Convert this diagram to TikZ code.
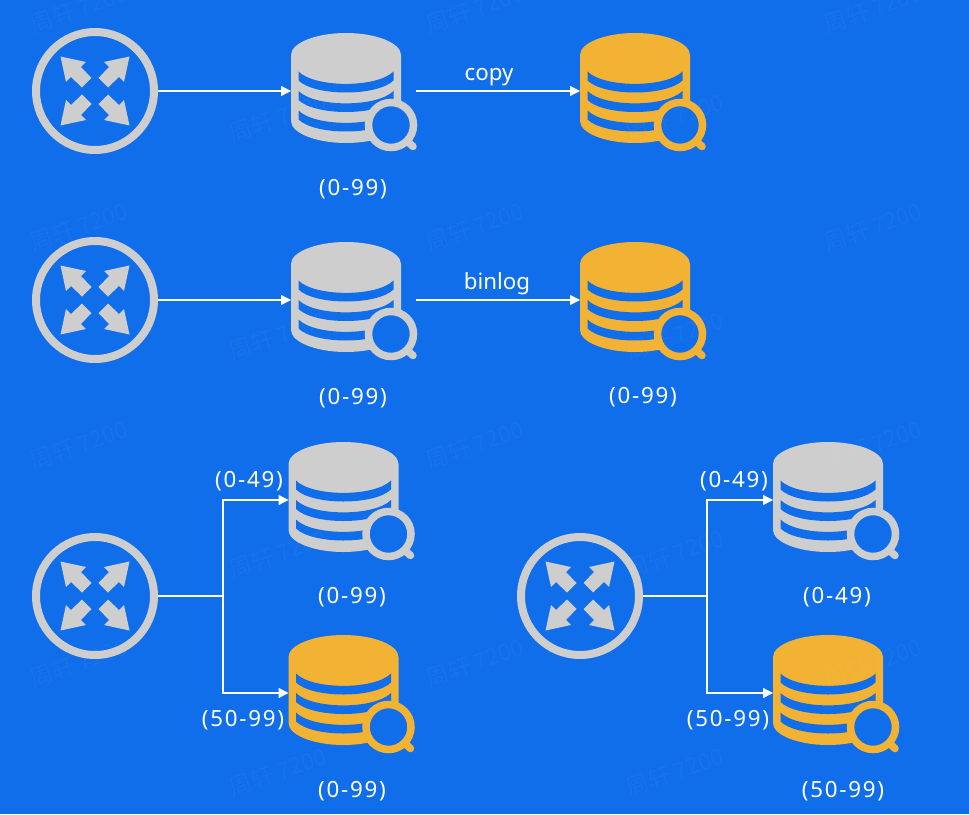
\documentclass[tikz,border=0pt]{standalone}
\usepackage{fontspec}
\setmainfont{Noto Sans}
\newfontfamily\rangefont{Noto Sans}[LetterSpace=8]
\newfontfamily\markfont{Noto Sans CJK SC}
\usetikzlibrary{arrows.meta}
\definecolor{bgblue}{HTML}{116EEA}
\definecolor{icongray}{HTML}{CECECE}
\definecolor{iconyellow}{HTML}{F2B233}
\tikzset{
  routerring/.style={circle,draw=icongray,line width=.16cm,minimum size=2.36cm,inner sep=0},
  dbbox/.style={minimum width=2.5cm,minimum height=2.2cm,inner sep=0,outer sep=0},
  link/.style={white,line width=.025cm,-{Triangle[length=.2cm,width=.2cm]}},
  plainlink/.style={white,line width=.025cm},
  rangelabel/.style={white,font=\fontsize{12.7}{14}\rangefont,inner sep=0},
  wordlabel/.style={white,font=\fontsize{12.7}{14}\selectfont,inner sep=0},
  watermark/.style={white,opacity=.03,rotate=19,font=\fontsize{13}{15}\markfont,inner sep=0}
}
\newcommand\routericon[3]{
  \node[routerring] (#1) at (#2,#3) {};
  \foreach \a in {0,90,180,270}
    \fill[icongray,shift={(#2,#3)},rotate=\a] (-34.5,-34.5) -- (-9,-29) -- (-14,-24) -- (-3.5,-13) -- (-13,-3.5) -- (-24,-14) -- (-29,-9) -- cycle;
}
\newcommand\dbicon[4]{
  \node[dbbox] (#1) at (#2+62.5,#3+58) {};
  \begin{scope}[shift={(#2,#3)}]
    \fill[#4] (0,22) .. controls (0,10) and (25,0) .. (55,0) .. controls (85,0) and (110,10) .. (110,22) -- (110,88) .. controls (110,100) and (85,110) .. (55,110) .. controls (25,110) and (0,100) .. (0,88) -- cycle;
    \foreach \s in {0,19.5,39}
      \fill[bgblue,yshift=-\s*.02cm] (7.5,38.5) .. controls (24,55) and (86,55) .. (102.5,38.5) -- (102.5,47.5) .. controls (86,63.5) and (24,63.5) .. (7.5,47.5) -- cycle;
    \draw[#4,line width=.15cm,line cap=round] (115,107) -- (122,113.5);
    \draw[#4,line width=.15cm,fill=bgblue] (100,92) circle (22.5);
  \end{scope}
}
\begin{document}
\begin{tikzpicture}[x=.02cm,y=-.02cm]
\useasboundingbox (0,0) rectangle (969,814);
\fill[bgblue] (0,0) rectangle (969,814);
\routericon{routerA}{95}{91}
\routericon{routerB}{95}{300}
\routericon{routerC}{95}{596}
\routericon{routerD}{580}{596}
\dbicon{masterA}{291}{33}{icongray}
\dbicon{slaveA}{580}{33}{iconyellow}
\dbicon{masterB}{291}{242}{icongray}
\dbicon{slaveB}{580}{242}{iconyellow}
\dbicon{masterC}{288.5}{442}{icongray}
\dbicon{slaveC}{288.5}{635}{iconyellow}
\dbicon{masterD}{773}{442}{icongray}
\dbicon{slaveD}{773}{635}{iconyellow}
\coordinate (forkC) at (223,596);
\coordinate (forkD) at (707,596);
\draw[link] (routerA) -- (masterA);
\draw[link] (masterA) -- (slaveA);
\draw[link] (routerB) -- (masterB);
\draw[link] (masterB) -- (slaveB);
\draw[plainlink] (routerC) -- (forkC);
\draw[link] (forkC) |- (masterC);
\draw[link] (forkC) |- (slaveC);
\draw[plainlink] (routerD) -- (forkD);
\draw[link] (forkD) |- (masterD);
\draw[link] (forkD) |- (slaveD);
\node[wordlabel] (copytext) at (489,77) {copy};
\node[wordlabel] (binlogtext) at (497,283.5) {binlog};
\node[rangelabel] (rangeA) at (353,189) {(0-99)};
\node[rangelabel] (rangeB) at (353,398) {(0-99)};
\node[rangelabel] (rangeBs) at (643,397) {(0-99)};
\node[rangelabel] (rangeCa) at (249,481) {(0-49)};
\node[rangelabel] (rangeCb) at (352,597) {(0-99)};
\node[rangelabel] (rangeCc) at (243,720) {(50-99)};
\node[rangelabel] (rangeCd) at (352,791) {(0-99)};
\node[rangelabel] (rangeDa) at (734,481) {(0-49)};
\node[rangelabel] (rangeDb) at (837,597) {(0-49)};
\node[rangelabel] (rangeDc) at (728,720) {(50-99)};
\node[rangelabel] (rangeDd) at (843,791) {(50-99)};
\foreach \px in {79,475,873} \foreach \py in {9,227,445,663}
  \node[watermark] at (\px,\py) {周轩 7200};
\foreach \px in {278,675} \foreach \py in {118,336,554,772}
  \node[watermark] at (\px,\py) {周轩 7200};
\end{tikzpicture}
\end{document}
